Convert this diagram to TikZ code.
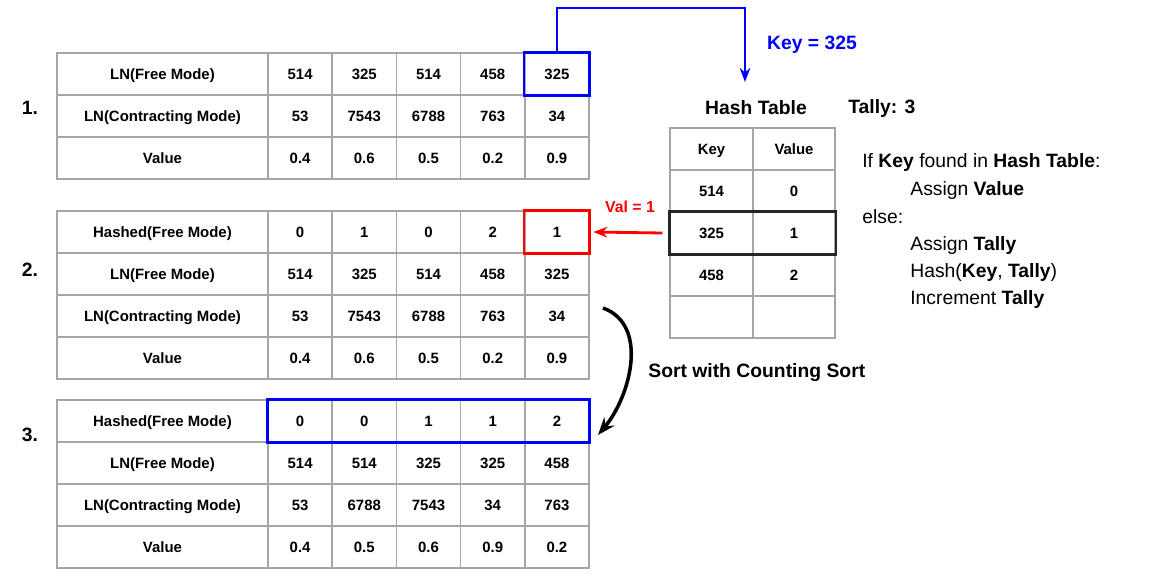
\documentclass[tikz,border=0pt]{standalone}
\usepackage{fontspec}
\setmainfont{Liberation Sans}
\usetikzlibrary{arrows.meta,positioning}

\begin{document}
\begin{tikzpicture}[x=0.02cm,y=-0.02cm]
\tikzset{
  cell/.style={draw=gray!70, line width=0.9pt, minimum height=0.84cm, inner sep=0pt,
    text height=1.6ex, text depth=0.4ex, font=\bfseries\fontsize{8.5}{10}\selectfont},
  head/.style={cell, minimum width=4.22cm},
  num/.style={cell, minimum width=1.284cm},
  hcell/.style={cell, minimum width=1.65cm},
  step label/.style={font=\bfseries\fontsize{11}{13}\selectfont},
  rule text/.style={anchor=west, inner sep=0pt, font=\fontsize{11}{13}\selectfont},
}
\useasboundingbox (0,0) rectangle (1159,579);
% table 1
\foreach \lab/\vals [count=\r] in {LN(Free Mode)/{514,325,514,458,325},
    LN(Contracting Mode)/{53,7543,6788,763,34}, Value/{0.4,0.6,0.5,0.2,0.9}} {
  \node[head] (t1-\r-0) at (162.5,53+42*\r-21) {\lab};
  \foreach \v [count=\c] in \vals
    \node[num] (t1-\r-\c) at (268+64.2*\c-32.1,53+42*\r-21) {\v};
}
% table 2
\foreach \lab/\vals [count=\r] in {Hashed(Free Mode)/{0,1,0,2,1}, LN(Free Mode)/{514,325,514,458,325},
    LN(Contracting Mode)/{53,7543,6788,763,34}, Value/{0.4,0.6,0.5,0.2,0.9}} {
  \node[head] (t2-\r-0) at (162.5,211+42*\r-21) {\lab};
  \foreach \v [count=\c] in \vals
    \node[num] (t2-\r-\c) at (268+64.2*\c-32.1,211+42*\r-21) {\v};
}
% table 3
\foreach \lab/\vals [count=\r] in {Hashed(Free Mode)/{0,0,1,1,2}, LN(Free Mode)/{514,514,325,325,458},
    LN(Contracting Mode)/{53,6788,7543,34,763}, Value/{0.4,0.5,0.6,0.9,0.2}} {
  \node[head] (t3-\r-0) at (162.5,400+42*\r-21) {\lab};
  \foreach \v [count=\c] in \vals
    \node[num] (t3-\r-\c) at (268+64.2*\c-32.1,400+42*\r-21) {\v};
}
\node[step label] (s1) at (30,108) {1.};
\node[step label] (s2) at (30,270) {2.};
\node[step label] (s3) at (30,435) {3.};
% hash table
\foreach \k/\v [count=\r] in {Key/Value, 514/0, 325/1, 458/2, {}/{}} {
  \node[hcell] (h-\r-1) at (711.5,128+42*\r-21) {\k};
  \node[hcell] (h-\r-2) at (794,128+42*\r-21) {\v};
}
\node[step label] (htitle) at (756,108) {Hash Table};
\node[step label, anchor=west, inner sep=0pt] (tally) at (848,108) {Tally: 3};
\draw[gray!30!black, line width=1.6pt] (h-3-1.north west) rectangle (h-3-2.south east);
% rules
\node[rule text] (r1) at (862,162) {If \textbf{Key} found in \textbf{Hash Table}:};
\node[rule text] (r2) at (910,190) {Assign \textbf{Value}};
\node[rule text] (r3) at (862,217) {else:};
\node[rule text] (r4) at (910,245) {Assign \textbf{Tally}};
\node[rule text] (r5) at (910,272) {Hash(\textbf{Key}, \textbf{Tally})};
\node[rule text] (r6) at (910,299) {Increment \textbf{Tally}};
% highlights
\draw[blue, line width=1.6pt] (t1-1-5.north west) rectangle (t1-1-5.south east);
\draw[red, line width=1.6pt] (t2-1-5.north west) rectangle (t2-1-5.south east);
\draw[blue, line width=1.6pt] (t3-1-1.north west) rectangle (t3-1-5.south east);
% arrows
\coordinate (keyend) at (745,82);
\draw[blue, line width=1.6pt, -{Stealth[length=8pt]}] (t1-1-5.north) |- (745,8) -- (keyend);
\node[blue, step label] (keylab) at (812,45) {Key = 325};
\draw[red, line width=1.6pt, -{Stealth[length=8pt]}] ([xshift=-4pt]h-3-1.west) -- ([xshift=2pt]t2-1-5.east);
\node[red, font=\bfseries\fontsize{9}{11}\selectfont] (vallab) at (630,207) {Val = 1};
\coordinate (sortA) at (603,308);
\coordinate (sortB) at (598,435);
\draw[line width=2pt, -{Stealth[length=10pt]}] (sortA) to[out=-20,in=50] (sortB);
\node[anchor=west, inner sep=0pt, font=\bfseries\fontsize{11}{13}\selectfont] (sortlab) at (648,373) {Sort with Counting Sort};
\end{tikzpicture}
\end{document}
